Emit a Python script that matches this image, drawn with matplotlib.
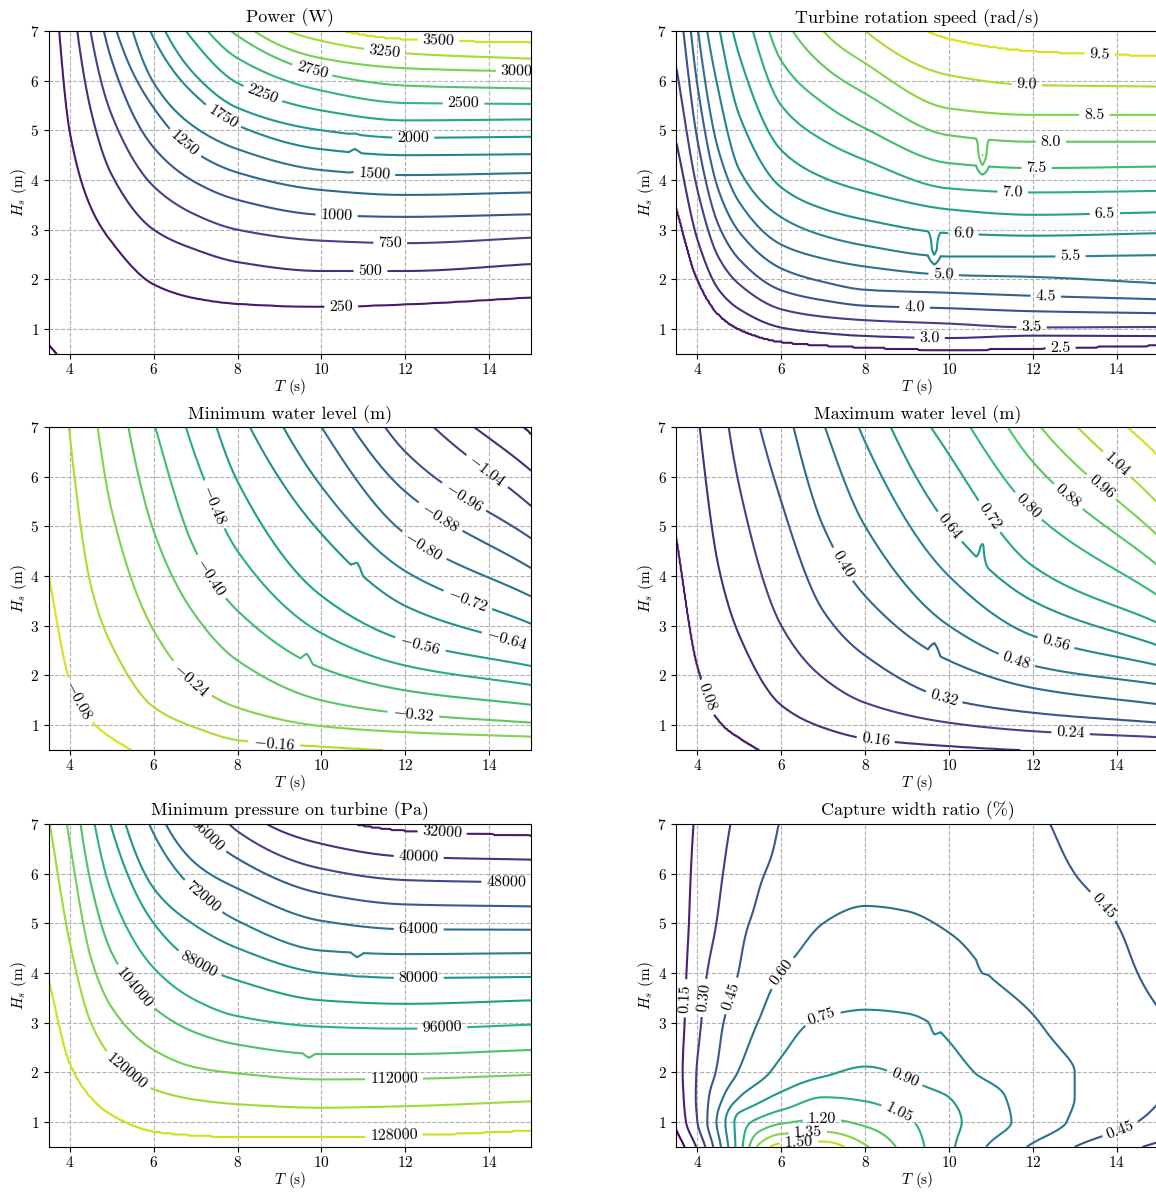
import numpy as np
import matplotlib
matplotlib.use("Agg")
import matplotlib.pyplot as plt
from matplotlib.colors import Normalize

plt.rcParams.update({
    "font.family": "serif",
    "font.serif": ["cmr10"],
    "mathtext.fontset": "cm",
    "axes.formatter.use_mathtext": True,
    "axes.unicode_minus": False,
    "font.size": 11,
    "xtick.major.pad": 2.5,
})

# ---------------------------------------------------------------------------
# Sea-state axes: wave period T (s) and significant wave height Hs (m)
# ---------------------------------------------------------------------------
T_NODES = [3.5, 4, 4.5, 5, 6, 7, 8, 10, 12, 15]

# Each table row: height Hs (m) at which a contour level is met, per period in T_NODES
POWER_LEVELS = [0, 250, 500, 750, 1000, 1250, 1500, 1750, 2000, 2250, 2500, 2750, 3000, 3250, 3500]
POWER_HS = [
    [0.68, 0.25, 0.0, -0.2, -0.3, -0.3, -0.3, -0.3, -0.3, -0.3],
    [9.5, 4.95, 3.45, 2.75, 1.9, 1.62, 1.51, 1.45, 1.5, 1.64],
    [16, 8.3, 5.4, 4.1, 3.0, 2.6, 2.35, 2.17, 2.17, 2.31],
    [22, 11, 6.95, 5.3, 3.87, 3.3, 3.0, 2.78, 2.73, 2.84],
    [28, 14, 8.5, 6.4, 4.65, 3.95, 3.6, 3.3, 3.26, 3.31],
    [34, 17, 10, 7.3, 5.45, 4.55, 4.15, 3.8, 3.7, 3.75],
    [40, 20, 12, 8.7, 5.95, 5.05, 4.62, 4.2, 4.1, 4.14],
    [46, 23, 14, 10, 6.85, 5.7, 5.1, 4.62, 4.5, 4.52],
    [52, 26, 16, 11.5, 7.5, 6.1, 5.45, 5.0, 4.85, 4.87],
    [58, 29, 18, 13, 8.2, 6.75, 5.95, 5.4, 5.2, 5.22],
    [64, 32, 20, 14.5, 8.9, 7.3, 6.45, 5.8, 5.55, 5.53],
    [70, 35, 22, 16, 10.5, 7.9, 6.9, 6.15, 5.9, 5.84],
    [76, 38, 24, 17.5, 11.5, 9.1, 7.25, 6.45, 6.25, 6.18],
    [82, 41, 26, 19, 12.5, 10, 7.6, 6.8, 6.55, 6.44],
    [88, 44, 28, 20.5, 13.5, 11, 9.4, 7.1, 6.82, 6.75],
]

SPEED_LEVELS = [2.5, 3.0, 3.5, 4.0, 4.5, 5.0, 5.5, 6.0, 6.5, 7.0, 7.5, 8.0, 8.5, 9.0, 9.5]
SPEED_HS = [
    [3.43, 2.0, 1.3, 1.0, 0.75, 0.68, 0.64, 0.59, 0.62, 0.68],
    [4.74, 2.8, 1.8, 1.4, 1.03, 0.92, 0.86, 0.82, 0.87, 0.86],
    [6.24, 3.8, 2.45, 1.9, 1.4, 1.25, 1.18, 1.11, 1.03, 1.04],
    [8.2, 4.8, 3.1, 2.4, 1.78, 1.58, 1.47, 1.42, 1.36, 1.32],
    [10, 5.9, 3.8, 2.95, 2.22, 1.95, 1.79, 1.73, 1.67, 1.6],
    [12, 7.1, 4.6, 3.55, 2.7, 2.42, 2.26, 2.09, 2.05, 1.92],
    [14, 8.4, 5.8, 4.2, 3.25, 2.88, 2.68, 2.46, 2.46, 2.49],
    [16, 10, 7.15, 5.3, 3.85, 3.42, 3.2, 2.93, 2.88, 2.93],
    [18, 12, 8.5, 6.5, 4.6, 4.05, 3.77, 3.41, 3.3, 3.35],
    [20, 14, 10, 8.0, 5.5, 4.8, 4.4, 3.83, 3.75, 3.78],
    [22, 16, 12, 9.5, 6.4, 5.55, 5.04, 4.34, 4.24, 4.27],
    [24, 18, 14, 11, 7.4, 6.3, 5.74, 4.9, 4.77, 4.77],
    [26, 20, 16, 13, 9.0, 7.0, 6.35, 5.44, 5.31, 5.31],
    [28, 22, 18, 15, 10.5, 8.2, 7.0, 6.11, 5.91, 5.88],
    [30, 24, 20, 17, 12, 9.3, 7.9, 6.83, 6.58, 6.48],
]

WMIN_LEVELS = [-0.08, -0.16, -0.24, -0.32, -0.40, -0.48, -0.56, -0.64, -0.72, -0.80,
               -0.88, -0.96, -1.04, -1.12, -1.20]
WMIN_HS = [
    [4.0, 1.9, 1.1, 0.75, 0.3, 0.1, 0.0, -0.1, -0.2, -0.3],
    [12, 6.8, 3.8, 2.6, 1.36, 0.95, 0.7, 0.57, 0.48, 0.4],
    [20, 12, 8.0, 5.3, 2.9, 1.82, 1.35, 0.98, 0.86, 0.77],
    [25, 18, 13, 9.0, 4.9, 3.2, 2.3, 1.5, 1.23, 1.05],
    [30, 22, 17, 10.5, 7.1, 4.5, 3.3, 2.15, 1.7, 1.41],
    [35, 26, 20, 14, 9.5, 6.4, 4.5, 2.85, 2.2, 1.81],
    [40, 30, 24, 18, 12, 8.4, 5.9, 3.6, 2.7, 2.19],
    [45, 34, 28, 22, 14, 10, 7.5, 4.85, 3.4, 2.58],
    [50, 38, 32, 26, 17, 12, 9.0, 5.8, 4.1, 3.04],
    [55, 42, 36, 30, 20, 14, 10.5, 7.0, 4.85, 3.59],
    [60, 46, 40, 34, 23, 16, 12, 8.0, 5.7, 4.16],
    [65, 50, 44, 38, 26, 18, 13.5, 9.3, 6.5, 4.76],
    [70, 54, 48, 42, 29, 20, 15, 10.5, 7.6, 5.41],
    [75, 58, 52, 46, 32, 22, 16.5, 11.8, 8.3, 6.12],
    [80, 62, 56, 50, 35, 24, 18, 13, 9.2, 6.85],
]

WMAX_LEVELS = [0.08, 0.16, 0.24, 0.32, 0.40, 0.48, 0.56, 0.64, 0.72, 0.80, 0.88, 0.96, 1.04, 1.12]
WMAX_HS = [
    [4.77, 2.2, 1.1, 0.75, 0.3, 0.1, 0.0, -0.1, -0.2, -0.3],
    [12, 7.4, 4.2, 2.8, 1.4, 0.95, 0.73, 0.58, 0.49, 0.42],
    [20, 13, 8.5, 5.8, 3.0, 1.95, 1.45, 1.05, 0.88, 0.76],
    [26, 18, 13, 9.0, 5.5, 3.3, 2.4, 1.52, 1.25, 1.05],
    [31, 23, 17, 12, 8.0, 5.0, 3.6, 2.3, 1.75, 1.42],
    [36, 27, 21, 15, 10, 7.1, 5.0, 3.0, 2.2, 1.82],
    [41, 31, 25, 19, 13, 9.3, 6.7, 4.0, 2.8, 2.2],
    [46, 35, 29, 23, 16, 11, 8.2, 5.0, 3.5, 2.6],
    [51, 39, 33, 27, 19, 13, 9.5, 6.45, 4.2, 3.05],
    [56, 43, 37, 31, 22, 15, 11, 7.7, 5.3, 3.6],
    [61, 47, 41, 35, 25, 17, 13, 9.2, 6.3, 4.2],
    [66, 51, 45, 39, 28, 19, 15, 10.5, 7.2, 4.8],
    [71, 55, 49, 43, 31, 21, 17, 12, 8.1, 5.45],
    [76, 59, 53, 47, 34, 23, 19, 13.5, 9.0, 6.4],
]

PMIN_LEVELS = [128000, 120000, 112000, 104000, 96000, 88000, 80000, 72000, 64000,
               56000, 48000, 40000, 32000]
PMIN_HS = [
    [3.87, 2.19, 1.5, 1.15, 0.82, 0.74, 0.71, 0.71, 0.74, 0.84],
    [7.1, 4.6, 3.0, 2.3, 1.66, 1.45, 1.36, 1.29, 1.32, 1.42],
    [9.5, 6.6, 4.3, 3.3, 2.45, 2.1, 1.98, 1.86, 1.87, 1.95],
    [13, 8.6, 5.8, 4.4, 3.3, 2.8, 2.56, 2.37, 2.37, 2.45],
    [17, 11, 7.4, 5.6, 4.1, 3.45, 3.13, 2.92, 2.88, 2.96],
    [21, 14, 9.2, 6.9, 5.0, 4.2, 3.85, 3.45, 3.38, 3.45],
    [25, 17, 11, 8.0, 5.7, 4.95, 4.5, 4.0, 3.9, 3.92],
    [29, 20, 14, 10, 6.8, 5.65, 5.05, 4.45, 4.38, 4.4],
    [33, 23, 17, 12, 7.5, 6.2, 5.7, 5.05, 4.88, 4.87],
    [37, 26, 20, 14, 9.0, 7.05, 6.3, 5.6, 5.38, 5.34],
    [41, 29, 23, 16, 10.5, 8.0, 6.85, 6.1, 5.87, 5.82],
    [45, 32, 26, 18, 12, 9.5, 7.4, 6.6, 6.34, 6.28],
    [49, 35, 29, 20, 14, 11, 8.5, 7.15, 6.85, 6.75],
]

# Capture width ratio (%) sampled on a period / wave-height grid
CWR_T = [3.5, 4, 4.5, 5, 5.5, 6, 7, 8, 9, 10, 11, 12, 13, 14, 15]
CWR_HS = [0.5, 1, 1.5, 2, 3, 4, 5, 6, 7]
CWR = [
    [-0.1, 0.17, 0.55, 0.98, 1.4, 1.56, 1.58, 1.37, 1.14, 0.93, 0.73, 0.58, 0.45, 0.35, 0.27],
    [0.03, 0.3, 0.63, 0.96, 1.1, 1.18, 1.23, 1.17, 1.07, 0.94, 0.81, 0.69, 0.58, 0.49, 0.41],
    [0.06, 0.32, 0.55, 0.75, 0.86, 0.94, 1.05, 1.03, 0.97, 0.9, 0.79, 0.68, 0.6, 0.53, 0.46],
    [0.08, 0.31, 0.47, 0.61, 0.71, 0.79, 0.88, 0.92, 0.88, 0.8, 0.72, 0.66, 0.6, 0.55, 0.5],
    [0.07, 0.27, 0.42, 0.53, 0.61, 0.69, 0.765, 0.78, 0.77, 0.725, 0.67, 0.61, 0.55, 0.5, 0.46],
    [0.06, 0.24, 0.36, 0.455, 0.54, 0.6, 0.65, 0.68, 0.67, 0.645, 0.595, 0.55, 0.51, 0.47, 0.43],
    [0.05, 0.21, 0.31, 0.42, 0.48, 0.54, 0.6, 0.625, 0.615, 0.59, 0.555, 0.52, 0.485, 0.45, 0.415],
    [0.05, 0.19, 0.28, 0.37, 0.44, 0.48, 0.53, 0.555, 0.555, 0.535, 0.505, 0.475, 0.45, 0.42, 0.39],
    [0.05, 0.17, 0.255, 0.33, 0.39, 0.455, 0.5, 0.52, 0.52, 0.505, 0.485, 0.46, 0.435, 0.405, 0.375],
]
CWR_LEVELS = [0.0, 0.15, 0.30, 0.45, 0.60, 0.75, 0.90, 1.05, 1.20, 1.35, 1.50]

# Isolated sea states whose simulated result departs from its neighbours: (T, Hs, deviation)
POWER_GLITCH = [(10.8, 4.55, -60.0)]
SPEED_GLITCH = [(10.8, 4.5, 0.8), (9.65, 2.6, 0.6)]
WMIN_GLITCH = [(10.85, 4.15, 0.02), (9.65, 2.35, 0.02)]
WMAX_GLITCH = [(10.8, 4.6, -0.03), (9.65, 2.5, -0.03)]
PMIN_GLITCH = [(10.85, 4.4, -1800.0), (9.7, 2.4, -1600.0)]
CWR_GLITCH = [(10.8, 4.25, -0.012), (9.65, 2.85, -0.015)]

# Where each contour carries its value label, (T, Hs)
POWER_LABELS = [(12.79, 6.78), (11.51, 6.58), (14.66, 6.18), (9.77, 6.18), (13.39, 5.53),
                (8.62, 5.78), (12.19, 4.86), (7.68, 5.31), (11.26, 4.12), (6.74, 4.74),
                (10.36, 3.25), (11.64, 2.72), (11.17, 2.16), (10.47, 1.47)]
SPEED_LABELS = [(13.59, 6.48), (11.86, 5.98), (13.47, 5.29), (12.43, 4.77), (12.09, 4.25),
                (11.52, 3.76), (13.72, 3.33), (10.34, 2.86), (12.9, 2.46), (9.87, 2.07),
                (12.31, 1.66), (9.18, 1.42), (11.97, 1.0), (9.54, 0.87), (12.66, 0.62)]
WMIN_LABELS = [(13.9, 6.05), (13.39, 5.58), (12.83, 5.18), (12.45, 4.61), (13.47, 3.47),
               (14.41, 2.66), (12.36, 2.63), (7.47, 5.45), (7.34, 3.97), (12.19, 1.22),
               (6.87, 1.89), (8.87, 0.63), (4.23, 1.49)]
WMAX_LABELS = [(4.21, 1.56), (8.25, 0.69), (12.9, 0.82), (9.87, 1.52), (7.47, 4.24),
               (11.61, 2.29), (12.54, 2.62), (10.0, 4.98), (10.93, 5.18), (11.86, 5.38),
               (12.79, 5.55), (13.55, 5.71), (14.02, 6.25)]
PMIN_LABELS = [(12.88, 6.79), (12.32, 6.34), (14.41, 5.82), (7.25, 6.75), (12.32, 4.87),
               (7.17, 5.53), (12.32, 3.89), (7.08, 4.17), (12.88, 2.92), (5.59, 3.73),
               (11.73, 1.87), (5.34, 2.0), (11.73, 0.76)]
CWR_LABELS = [(3.69, 3.49), (4.24, 3.49), (4.87, 3.52), (6.03, 3.99), (6.97, 3.12),
              (8.96, 1.92), (8.83, 1.22), (6.97, 1.08), (6.63, 0.85), (6.42, 0.65),
              (13.75, 5.4), (14.08, 0.88)]

T_FINE = np.linspace(3.5, 15, 461)
HS_FINE = np.linspace(0.5, 7, 261)
TT, HH = np.meshgrid(T_FINE, HS_FINE)


def pchip(x, y, xn):
    """Monotone piecewise cubic Hermite interpolation."""
    x = np.asarray(x, float)
    y = np.asarray(y, float)
    h = np.diff(x)
    d = np.diff(y) / h
    m = np.zeros_like(y)
    for k in range(1, len(x) - 1):
        if d[k - 1] * d[k] > 0:
            w1 = 2 * h[k] + h[k - 1]
            w2 = h[k] + 2 * h[k - 1]
            m[k] = (w1 + w2) / (w1 / d[k - 1] + w2 / d[k])
    m[0] = d[0]
    m[-1] = d[-1]
    i = np.clip(np.searchsorted(x, xn) - 1, 0, len(x) - 2)
    t = (xn - x[i]) / h[i]
    h00 = 2 * t**3 - 3 * t**2 + 1
    h10 = t**3 - 2 * t**2 + t
    h01 = -2 * t**3 + 3 * t**2
    h11 = t**3 - t**2
    return h00 * y[i] + h10 * h[i] * m[i] + h01 * y[i + 1] + h11 * h[i] * m[i + 1]


def field_from_levels(levels, table):
    """Surface over (T, Hs) whose iso-lines pass through the tabulated heights."""
    lev = np.asarray(levels, float)
    heights = np.array([pchip(T_NODES, row, T_FINE) for row in table])
    sgn = np.sign(lev[1] - lev[0])
    step = abs(lev[1] - lev[0])
    fp = np.concatenate([[lev[0] - sgn * step], lev, [lev[-1] + sgn * step]])
    z = np.empty((HS_FINE.size, T_FINE.size))
    for j in range(T_FINE.size):
        xp = np.sort(heights[:, j])
        xp = np.concatenate([[xp[0] - 50.0], xp, [xp[-1] + 50.0]])
        z[:, j] = np.interp(HS_FINE, xp, fp)
    return z


def field_from_grid(t, hs, grid):
    """Resample a (Hs, T) table onto the fine axes, first along T then along Hs."""
    g = np.asarray(grid, float)
    rows = np.array([pchip(t, r, T_FINE) for r in g])
    return np.array([pchip(hs, rows[:, j], HS_FINE) for j in range(T_FINE.size)]).T


def add_glitches(z, glitches, wt=0.15, wh=0.5):
    """Superimpose single-point deviations, spread over one sampling cell."""
    for t0, h0, dev in glitches:
        kt = np.clip(1 - np.abs(TT - t0) / wt, 0, None)
        kh = np.clip(1 - np.abs(HH - h0) / wh, 0, None)
        z = z + dev * kt * kh
    return z


def style_axes(ax, title):
    ax.set_xlim(3.5, 15)
    ax.set_ylim(0.5, 7)
    ax.set_xticks([4, 6, 8, 10, 12, 14])
    ax.set_yticks([1, 2, 3, 4, 5, 6, 7])
    ax.grid(True, linestyle="--", linewidth=0.8, color="#b0b0b0")
    ax.set_title(title, fontsize=13)
    ax.set_xlabel(r"$T$ (s)")
    ax.set_ylabel(r"$H_s$ (m)")
    ax.xaxis.set_label_coords(0.5, -0.072)
    ax.yaxis.set_label_coords(-0.042, 0.5)


fig = plt.figure(figsize=(11.56, 11.93), dpi=100)
W, H = 0.417, 0.2708
LEFT = [0.0424, 0.5852]
BOTTOM = [0.7033, 0.3713, 0.0386]

panels = [
    ("Power (W)", POWER_LEVELS, POWER_HS, POWER_GLITCH, (0, 3750), "{:.0f}", POWER_LABELS),
    ("Turbine rotation speed (rad/s)", SPEED_LEVELS, SPEED_HS, SPEED_GLITCH, (2.0, 10.0), "{:.1f}",
     SPEED_LABELS),
    ("Minimum water level (m)", WMIN_LEVELS, WMIN_HS, WMIN_GLITCH, (-1.28, 0.0), "${:.2f}$",
     WMIN_LABELS),
    ("Maximum water level (m)", WMAX_LEVELS, WMAX_HS, WMAX_GLITCH, (0.0, 1.20), "{:.2f}", WMAX_LABELS),
    ("Minimum pressure on turbine (Pa)", PMIN_LEVELS, PMIN_HS, PMIN_GLITCH, (24000, 136000), "{:.0f}",
     PMIN_LABELS),
]

for k, (title, levels, table, glitch, (vmin, vmax), fmt, spots) in enumerate(panels):
    ax = fig.add_axes([LEFT[k % 2], BOTTOM[k // 2], W, H])
    style_axes(ax, title)
    z = add_glitches(field_from_levels(levels, table), glitch)
    cs = ax.contour(T_FINE, HS_FINE, z, levels=sorted(levels), cmap="viridis",
                    norm=Normalize(vmin, vmax), linewidths=1.5)
    ax.clabel(cs, inline=True, fontsize=11.5, colors="k",
              fmt=lambda v, f=fmt: f.format(v), manual=spots)

ax = fig.add_axes([LEFT[1], BOTTOM[2], W, H])
style_axes(ax, "Capture width ratio (%)")
z = add_glitches(field_from_grid(CWR_T, CWR_HS, CWR), CWR_GLITCH)
cs = ax.contour(T_FINE, HS_FINE, z, levels=CWR_LEVELS, cmap="viridis",
                norm=Normalize(0.0, 1.65), linewidths=1.5)
ax.clabel(cs, inline=True, fontsize=11.5, colors="k",
          fmt=lambda v: "{:.2f}".format(v), manual=CWR_LABELS)

fig.savefig("out.png", dpi=100)
